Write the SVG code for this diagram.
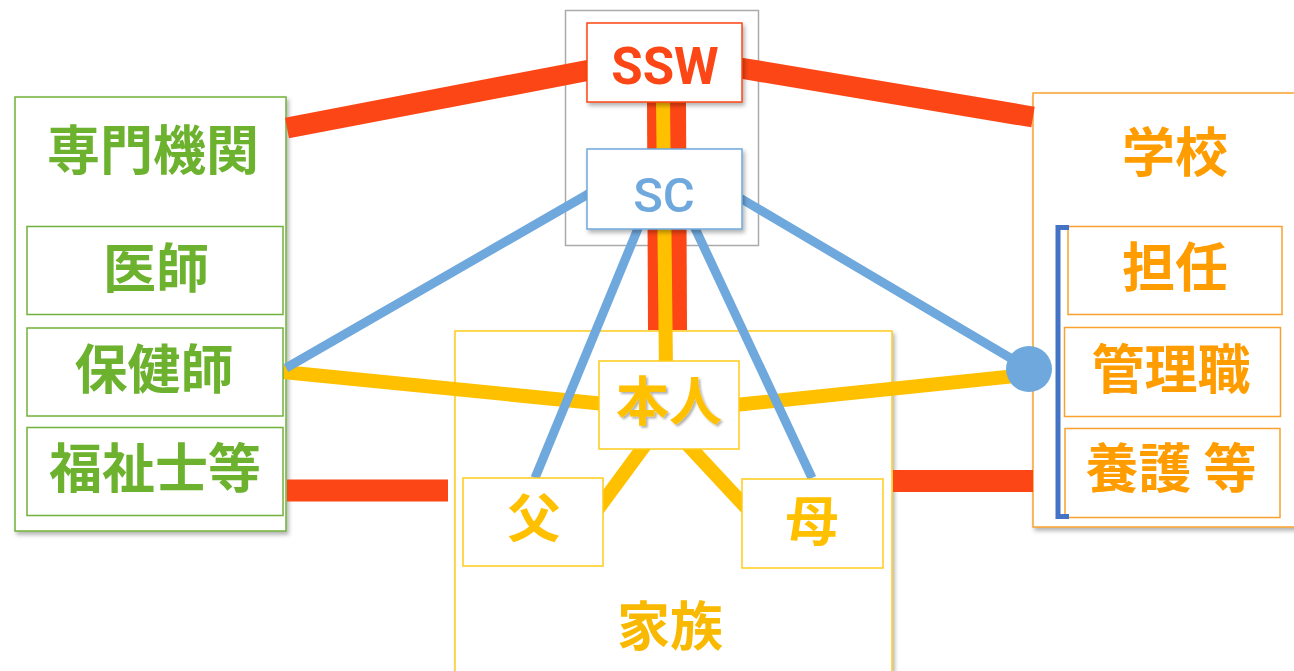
<svg xmlns="http://www.w3.org/2000/svg" width="1294" height="671" viewBox="0 0 1294 671">
<defs>
<filter id="sh" x="-10%" y="-10%" width="130%" height="130%">
<feDropShadow dx="2" dy="3" stdDeviation="2" flood-color="#000" flood-opacity="0.3"/>
</filter>
<filter id="tsh" x="-10%" y="-10%" width="130%" height="130%">
<feDropShadow dx="2" dy="2" stdDeviation="1" flood-color="#000" flood-opacity="0.3"/>
</filter>
<style>
.jp{font-family:"Noto Sans CJK JP","Noto Sans CJK SC",sans-serif;font-weight:700;font-size:53px;text-anchor:middle}
.g{fill:#6CB22E}
.o{fill:#FF9C00}
.y{fill:#FFC000}
.boxg{fill:#fff;stroke:#70B13A;stroke-width:1.5}
.boxo{fill:#fff;stroke:#F9A12E;stroke-width:1.5}
.boxy{fill:#fff;stroke:#FFCC1A;stroke-width:1.5}
.red{stroke:#FC4615;fill:none}
.yel{stroke:#FFC000;fill:none}
.blu{stroke:#6FA8DC;fill:none;stroke-width:9}
</style>
</defs>
<rect width="1294" height="671" fill="#fff"/>
<g id="group-ssw-sc">
<rect x="565.5" y="10.5" width="193" height="235" fill="none" stroke="#AAAAAA" stroke-width="1.5"/>
</g>
<g id="senmon">
<rect x="15" y="97" width="271" height="434" class="boxg" stroke-width="2" filter="url(#sh)"/>
<text x="153" y="170" class="jp g">専門機関</text>
</g>
<g id="gakko">
<rect x="1033" y="93" width="270" height="434" class="boxo" stroke-width="2" filter="url(#sh)"/>
<text x="1175" y="172" class="jp o">学校</text>
</g>
<g id="kazoku">
<rect x="455" y="331" width="437" height="345" class="boxy" filter="url(#sh)"/>
<text x="670" y="646" class="jp" fill="#F9B900">家族</text>
</g>
<g id="connectors">
<line x1="287" y1="128" x2="590" y2="70" class="red" stroke-width="21"/>
<line x1="740" y1="68" x2="1033" y2="117" class="red" stroke-width="21"/>
<line x1="287" y1="490.5" x2="448" y2="490.5" class="red" stroke-width="22"/>
<line x1="893" y1="481" x2="1033" y2="481" class="red" stroke-width="22"/>
<line x1="666.5" y1="100" x2="667.5" y2="330" class="red" stroke-width="39"/>
<line x1="663" y1="100" x2="666" y2="370" class="yel" stroke-width="14"/>
<line x1="283" y1="372" x2="605" y2="404" class="yel" stroke-width="14"/>
<line x1="735" y1="405" x2="1025" y2="375" class="yel" stroke-width="14"/>
<line x1="656" y1="430" x2="592" y2="517" class="yel" stroke-width="14"/>
<line x1="674" y1="430" x2="755" y2="517" class="yel" stroke-width="14"/>
<line x1="590" y1="193" x2="286" y2="368" class="blu"/>
<line x1="740" y1="198" x2="1029" y2="369" class="blu"/>
<line x1="639" y1="226" x2="535" y2="478" class="blu"/>
<line x1="694" y1="226" x2="812" y2="478" class="blu"/>
</g>
<g id="ssw">
<rect x="587" y="23" width="155" height="79" fill="#fff" stroke="#FC4615" stroke-width="1.5" filter="url(#sh)"/>
<text x="665" y="84" font-family="Roboto, 'Liberation Sans', sans-serif" font-weight="700" font-size="51" text-anchor="middle" fill="#FC4615">SSW</text>
</g>
<g id="sc">
<rect x="587" y="149" width="155" height="80" fill="#fff" stroke="#6FA8DC" stroke-width="1.5" filter="url(#sh)"/>
<text x="664" y="212" font-family="Roboto, 'Liberation Sans', sans-serif" font-weight="500" font-size="49" text-anchor="middle" fill="#6FA8DC">SC</text>
</g>
<g id="ishi">
<rect x="27" y="226.5" width="256" height="88" class="boxg"/>
<text x="156" y="288" class="jp g">医師</text>
</g>
<g id="hokenshi">
<rect x="27" y="328" width="256" height="88" class="boxg"/>
<text x="154" y="389" class="jp g">保健師</text>
</g>
<g id="fukushishi">
<rect x="27" y="427.5" width="256" height="88" class="boxg"/>
<text x="155" y="488" class="jp g">福祉士等</text>
</g>
<g id="tannin">
<rect x="1068" y="226.5" width="214" height="88" class="boxo"/>
<text x="1175" y="287" class="jp o">担任</text>
</g>
<g id="kanrishoku">
<rect x="1064.5" y="327.5" width="216" height="89" class="boxo"/>
<text x="1171" y="389" class="jp o">管理職</text>
</g>
<g id="yogo">
<rect x="1065" y="428.5" width="215" height="89" class="boxo"/>
<text x="1171" y="488" class="jp o">養護 等</text>
</g>
<g id="bracket">
<path d="M1069,227.5 H1058 V516.5 H1069" fill="none" stroke="#4472C4" stroke-width="5"/>
<circle cx="1029" cy="369" r="23" fill="#6FA8DC"/>
</g>
<g id="honnin">
<rect x="599" y="361" width="140" height="88" class="boxy"/>
<text x="669" y="421" class="jp y" filter="url(#tsh)">本人</text>
</g>
<g id="chichi">
<rect x="463" y="478" width="140" height="88" class="boxy"/>
<text x="534" y="538" class="jp y">父</text>
</g>
<g id="haha">
<rect x="742" y="479" width="141" height="89" class="boxy"/>
<text x="812" y="541" class="jp y">母</text>
</g>
</svg>
